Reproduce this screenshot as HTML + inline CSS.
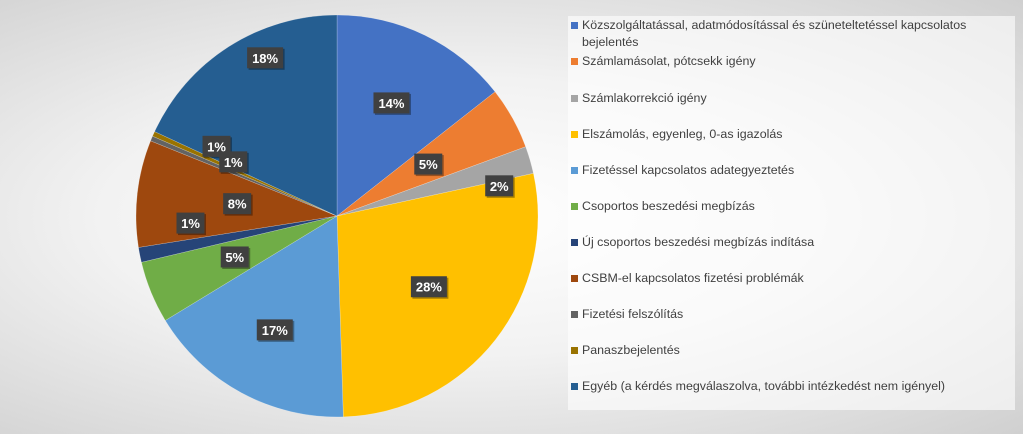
<!DOCTYPE html>
<html><head><meta charset="utf-8"><style>
body{margin:0;width:1023px;height:434px;overflow:hidden;font-family:"Liberation Sans",sans-serif;}
#c{position:absolute;left:0;top:0;width:1023px;height:434px;background:radial-gradient(ellipse at 45% 50%,#ffffff 0%,#f2f2f2 45%,#d0d0d0 100%);}
#legend{position:absolute;left:568px;top:16px;width:447px;height:394px;background:rgba(255,255,255,0.6);}
.li{position:absolute;left:14px;font-size:12.4px;color:#404040;line-height:17px;width:425px;}
.sw{position:absolute;left:-11px;top:5px;width:7px;height:7px;}
</style></head><body>
<div id="c">
<svg id="pie" width="1023" height="434" style="position:absolute;left:0;top:0"></svg>
<div id="legend"></div>
</div>
<script>
const categories=["Közszolgáltatással, adatmódosítással és szüneteltetéssel kapcsolatos bejelentés","Számlamásolat, pótcsekk igény","Számlakorrekció igény","Elszámolás, egyenleg, 0-as igazolás","Fizetéssel kapcsolatos adategyeztetés","Csoportos beszedési megbízás","Új csoportos beszedési megbízás indítása","CSBM-el kapcsolatos fizetési problémák","Fizetési felszólítás","Panaszbejelentés","Egyéb (a kérdés megválaszolva, további intézkedést nem igényel)"];
const values=[14.4,5.0,2.2,27.9,16.8,5.0,1.2,8.6,0.4,0.4,18.1];
const labels=["14%","5%","2%","28%","17%","5%","1%","8%","1%","1%","18%"];
const colors=["#4472c4","#ed7d31","#a5a5a5","#ffc000","#5b9bd5","#70ad47","#264478","#9e480e","#636363","#997300","#255e91"];
const labelR=[0.62,0.52,0.82,0.58,0.65,0.55,0.73,0.5,0.69,0.58,0.86];
const labelDA=[0,0,6,0,0,0,8,0,7,3,8];
const cx=337,cy=216,R=201;
const svg=document.getElementById('pie');const NS="http://www.w3.org/2000/svg";
const total=values.reduce((a,b)=>a+b,0);
function pt(a,r){return [cx+r*Math.sin(a),cy-r*Math.cos(a)];}
let acc=0;const labs=[];
values.forEach((v,i)=>{
 const a0=acc/total*2*Math.PI;acc+=v;const a1=acc/total*2*Math.PI;
 const p0=pt(a0,R),p1=pt(a1,R);
 const p=document.createElementNS(NS,'path');
 p.setAttribute('d',`M${cx},${cy}L${p0[0]},${p0[1]}A${R},${R} 0 ${a1-a0>Math.PI?1:0} 1 ${p1[0]},${p1[1]}Z`);
 p.setAttribute('fill',colors[i]);
 p.setAttribute('stroke','rgba(255,255,255,0.4)');
 p.setAttribute('stroke-width','0.5');
 
 
 svg.appendChild(p);
 const am=(a0+a1)/2+labelDA[i]*Math.PI/180;labs.push([pt(am,R*labelR[i]),i]);
});
labs.forEach(([q,i])=>{
 const g=document.createElementNS(NS,'g');
 
 
 const w=labels[i].length>2?36:28;
 const r=document.createElementNS(NS,'rect');
 r.setAttribute('x',q[0]-w/2+1.5);r.setAttribute('y',q[1]-10);r.setAttribute('width',w);r.setAttribute('height',21);r.setAttribute('fill','rgba(0,0,0,0.35)');
 g.appendChild(r);
 const r2=document.createElementNS(NS,'rect');
 r2.setAttribute('x',q[0]-w/2);r2.setAttribute('y',q[1]-11.5);r2.setAttribute('width',w);r2.setAttribute('height',21);r2.setAttribute('fill','#404040');
 g.appendChild(r2);
 const t=document.createElementNS(NS,'text');
 t.setAttribute('x',q[0]);t.setAttribute('y',q[1]+4);t.setAttribute('text-anchor','middle');
 t.setAttribute('fill','#fff');t.setAttribute('font-size','13');t.setAttribute('font-weight','bold');t.setAttribute('font-family','Liberation Sans, sans-serif');
 t.textContent=labels[i];g.appendChild(t);svg.appendChild(g);
});
const lg=document.getElementById('legend');
const tops=[1,37,74,110,146,182,218,254,290,326,362];
categories.forEach((c,i)=>{
 const d=document.createElement('div');d.className='li';d.style.top=tops[i]+'px';
 
 
 d.innerHTML='<span class="sw" style="background:'+colors[i]+'"></span>'+c;
 lg.appendChild(d);
});
</script>
</body></html>
